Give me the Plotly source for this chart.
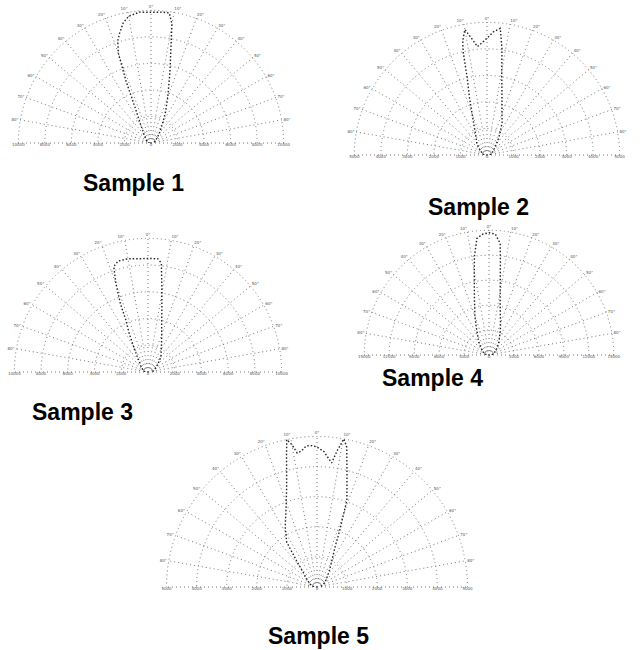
import plotly.graph_objects as go

# Luminous intensity curves (cd) per sample, angle from nadir axis in degrees
s1_theta = [-90, -80, -70, -60, -50, -40, -30, -27, -24, -22, -20, -18, -16, -13, -10, -5, 0,
            5, 8, 10, 12, 15, 20, 25, 30, 40, 50, 60, 70, 80, 90]
s1_cd = [100, 200, 300, 400, 500, 800, 1500, 2000, 3000, 5000, 7200, 8100, 8600, 9300, 9700, 9900, 9850,
         9900, 9900, 9100, 7200, 5500, 3700, 2600, 1800, 1000, 600, 400, 300, 200, 100]

s2_theta = [-90, -80, -70, -60, -50, -40, -30, -21.8, -17, -14.4, -13, -12, -10, -8, -5, 0,
            3, 6, 8, 10, 13, 16, 20, 25, 30, 35, 40, 50, 60, 70, 80, 90]
s2_cd = [100, 150, 200, 250, 400, 600, 850, 1400, 2250, 3000, 4000, 4400, 4800, 4500, 4100, 4400,
         4650, 4800, 4050, 3200, 2500, 2050, 1650, 1350, 1000, 750, 550, 350, 250, 200, 150, 100]

s3_theta = [-90, -80, -70, -60, -50, -40, -35, -29, -26, -23, -22, -20, -18, -15, -10, -5, 0,
            5, 7, 9, 12, 16, 20, 25, 30, 40, 50, 60, 70, 80, 90]
s3_cd = [200, 300, 400, 500, 700, 1000, 1400, 2300, 3200, 4300, 5500, 7000, 8300, 8600, 8600, 8500, 8500,
         8500, 8200, 6600, 5000, 3700, 3000, 2400, 2000, 1500, 1000, 700, 500, 400, 300]

s4_theta = [-90, -80, -70, -60, -50, -40, -35, -29, -25, -20, -14.7, -11, -8.4, -5.9, -3, 0,
            3, 5.7, 7, 9.6, 12, 15, 20, 25.7, 30, 40, 50, 60, 70, 80, 90]
s4_cd = [300, 450, 600, 900, 1200, 1800, 2250, 2850, 3600, 4950, 6900, 9300, 12000, 14100, 14550, 14700,
         14550, 13500, 11250, 8100, 6450, 5250, 4050, 3150, 2550, 1800, 1200, 900, 600, 450, 300]

s5_theta = [-90, -75, -65, -55, -45, -38, -34, -28, -22, -17, -15, -13, -11.6, -10, -8.4, -6.5, -4.4, -2, 0,
            3, 6.7, 8.5, 10.3, 12, 15, 19, 22, 24, 28, 35, 40, 50, 60, 70, 80, 90]
s5_cd = [100, 200, 250, 400, 600, 1100, 1800, 2250, 2750, 3450, 3900, 4500, 5000, 4800, 4500, 4550, 4700, 4700, 4650,
         4500, 4150, 4600, 5000, 4750, 3850, 3050, 2000, 1500, 1100, 750, 600, 400, 300, 200, 150, 100]

# Radial ring values (cd) for each chart
s1_rings = [2000, 4000, 6000, 8000, 10000]
s2_rings = [1000, 2000, 3000, 4000, 5000]
s3_rings = [2000, 4000, 6000, 8000, 10000]
s4_rings = [3000, 6000, 9000, 12000, 15000]
s5_rings = [1000, 2000, 3000, 4000, 5000]

titles = ["Sample 1", "Sample 2", "Sample 3", "Sample 4", "Sample 5"]

# angle labels on the arc; the two ends of the base line carry the radial scale instead
angle_ticks = list(range(-90, 91, 10))
angle_text = ["" if abs(a) == 90 else f"{abs(a)}°" for a in angle_ticks]

W, H = 642, 650


def dom(cx, cy, R):
    # half-disc bounding box (pixels) -> paper domain
    return dict(x=[(cx - R) / W, (cx + R) / W], y=[1 - cy / H, 1 - (cy - R) / H])


panels = [
    (s1_theta, s1_cd, s1_rings, dom(151, 143, 134), (133, 183)),
    (s2_theta, s2_cd, s2_rings, dom(487, 155, 134), (478, 207)),
    (s3_theta, s3_cd, s3_rings, dom(148, 372, 135), (83, 412)),
    (s4_theta, s4_cd, s4_rings, dom(489, 355, 126), (432, 378)),
    (s5_theta, s5_cd, s5_rings, dom(317, 587, 152), (318, 636)),
]

fig = go.Figure()
annotations = []
grid_col = "#777777"
grid_dash = "1px,3px"
label_font = dict(size=4, color="#555555", family="DejaVu Sans")

for i, (th, cd, rings, domain, tpos) in enumerate(panels):
    pid = "polar" if i == 0 else f"polar{i + 1}"
    fig.add_trace(go.Scatterpolar(
        theta=th, r=cd, mode="lines", subplot=pid,
        line=dict(color="#222222", width=1.4, dash="1.5px,2px"),
        showlegend=False, hoverinfo="skip"))
    # radial scale labels along the base line, both sides
    lab_r = [0] + rings + rings
    lab_t = [0] + [-90] * len(rings) + [90] * len(rings)
    lab_s = ["0"] + [str(v) for v in rings] * 2
    fig.add_trace(go.Scatterpolar(
        theta=lab_t, r=lab_r, mode="text", text=lab_s, subplot=pid,
        textposition="bottom center", cliponaxis=False,
        textfont=label_font, showlegend=False, hoverinfo="skip"))
    fig.layout[pid] = dict(
        domain=domain,
        sector=[0, 180],
        bgcolor="white",
        radialaxis=dict(range=[0, rings[-1] * 1.01], tickvals=rings, showticklabels=False,
                        ticks="", showline=False, gridcolor=grid_col, griddash=grid_dash,
                        gridwidth=1),
        angularaxis=dict(rotation=90, direction="clockwise", tickmode="array",
                         tickvals=angle_ticks, ticktext=angle_text, ticks="",
                         tickfont=label_font, showline=False,
                         gridcolor=grid_col, griddash=grid_dash, gridwidth=1),
    )
    annotations.append(dict(
        x=tpos[0] / W, y=1 - tpos[1] / H, xref="paper", yref="paper",
        text=f"<b>{titles[i]}</b>", showarrow=False,
        xanchor="center", yanchor="middle",
        font=dict(size=23, color="black", family="Liberation Sans")))

fig.update_layout(
    width=W, height=H, margin=dict(l=0, r=0, t=0, b=0),
    paper_bgcolor="white", plot_bgcolor="white",
    annotations=annotations, showlegend=False)

fig.write_html("out.html")
